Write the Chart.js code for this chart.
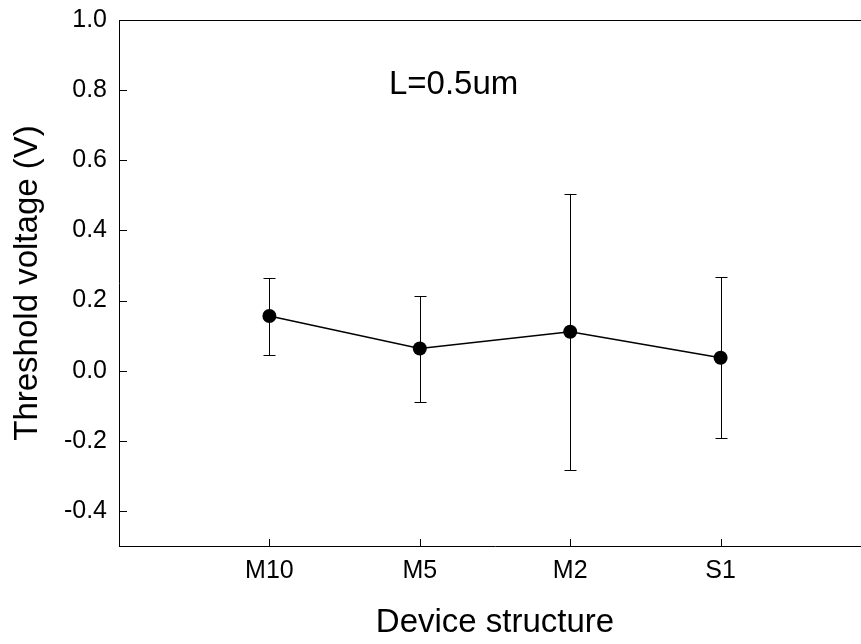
<!DOCTYPE html>
<html>
<head>
<meta charset="utf-8">
<script src="https://cdn.jsdelivr.net/npm/chart.js@4.4.0/dist/chart.umd.min.js"></script>
<style>
  html, body { margin: 0; padding: 0; background: #fff; overflow: hidden; }
  #wrap { width: 880px; height: 644px; }
</style>
</head>
<body>
<div id="wrap"><canvas id="vtChart" width="880" height="644"></canvas></div>
<script>
// Device structures along the x axis
const categories = ['M10', 'M5', 'M2', 'S1'];
// Mean threshold voltage (V)
const meanVt = [0.156, 0.063, 0.111, 0.037];
// Error bar ends (V)
const upperVt = [0.265, 0.212, 0.505, 0.267];
const lowerVt = [0.046, -0.088, -0.284, -0.193];
// Labelled ticks on the y axis
const yTickValues = [-0.4, -0.2, 0.0, 0.2, 0.4, 0.6, 0.8, 1.0];

const FONT = '"Liberation Sans", Arial, sans-serif';

// Top frame line, inner tick marks, error bars and the L=0.5um note
const frameAndBars = {
  id: 'frameAndBars',
  beforeDatasetsDraw(chart) {
    const { ctx, chartArea, scales: { x, y } } = chart;
    ctx.save();
    ctx.strokeStyle = '#000';
    ctx.lineWidth = 1;
    ctx.beginPath();
    ctx.moveTo(chartArea.left, chartArea.top + 0.5);
    ctx.lineTo(chartArea.right, chartArea.top + 0.5);
    x.ticks.forEach(t => {
      const px = Math.round(x.getPixelForValue(t.value)) + 0.5;
      ctx.moveTo(px, chartArea.bottom);
      ctx.lineTo(px, chartArea.bottom - 7);
    });
    y.ticks.forEach(t => {
      if (t.value >= 1.0) return;
      const py = Math.round(y.getPixelForValue(t.value)) + 0.5;
      ctx.moveTo(chartArea.left, py);
      ctx.lineTo(chartArea.left + 8, py);
    });
    ctx.stroke();

    ctx.beginPath();
    categories.forEach((c, i) => {
      const px = Math.round(x.getPixelForValue(i)) + 0.5;
      const top = Math.round(y.getPixelForValue(upperVt[i])) + 0.5;
      const bot = Math.round(y.getPixelForValue(lowerVt[i])) + 0.5;
      ctx.moveTo(px, top); ctx.lineTo(px, bot);
      ctx.moveTo(px - 6, top); ctx.lineTo(px + 6, top);
      ctx.moveTo(px - 6, bot); ctx.lineTo(px + 6, bot);
    });
    ctx.stroke();
    ctx.restore();
  },
  afterDraw(chart) {
    const { ctx, scales: { x, y } } = chart;
    ctx.save();
    ctx.fillStyle = '#000';
    ctx.font = '33px ' + FONT;
    ctx.textAlign = 'left';
    ctx.textBaseline = 'alphabetic';
    ctx.fillText('L=0.5um', x.getPixelForValue(0.795), y.getPixelForValue(0.789));
    ctx.restore();
  }
};

const ctx = document.getElementById('vtChart').getContext('2d');
const vtChart = new Chart(ctx, {
  type: 'line',
  data: {
    datasets: [{
      label: 'Threshold voltage',
      data: meanVt.map((v, i) => ({ x: i, y: v })),
      borderColor: '#000',
      borderWidth: 1.5,
      pointRadius: 7,
      pointHoverRadius: 7,
      pointBackgroundColor: '#000',
      pointBorderColor: '#000',
      pointBorderWidth: 0,
      tension: 0,
      fill: false
    }]
  },
  options: {
    responsive: false,
    animation: false,
    devicePixelRatio: 1,
    layout: { padding: { top: 20, right: 9, left: 0, bottom: 0 } },
    plugins: {
      legend: { display: false },
      tooltip: { enabled: false }
    },
    scales: {
      x: {
        type: 'linear',
        min: -1,
        max: 4,
        grid: { display: false, drawTicks: false },
        border: { display: true, color: '#000', width: 1 },
        afterBuildTicks: s => {
          s.ticks = categories.map((c, i) => ({ value: i }));
        },
        afterFit: s => {
          s.height = 98;
          s.paddingLeft = 0;
          s.paddingRight = 0;
        },
        ticks: {
          autoSkip: false,
          maxRotation: 0,
          padding: 10,
          color: '#000',
          font: { family: FONT, size: 25 },
          callback: v => categories[v] ?? ''
        },
        title: {
          display: true,
          text: 'Device structure',
          color: '#000',
          font: { family: FONT, size: 33 },
          padding: { top: 0, bottom: 1 }
        }
      },
      y: {
        min: -0.5,
        max: 1.0,
        grid: { display: false, drawTicks: false },
        border: { display: true, color: '#000', width: 1 },
        afterBuildTicks: s => {
          s.ticks = yTickValues.map(v => ({ value: v }));
        },
        afterFit: s => {
          s.width = 119;
          s.paddingTop = 0;
          s.paddingBottom = 0;
        },
        ticks: {
          padding: 12,
          color: '#000',
          font: { family: FONT, size: 25 },
          callback: v => Number(v).toFixed(1)
        },
        title: {
          display: true,
          text: 'Threshold voltage (V)',
          color: '#000',
          font: { family: FONT, size: 33 },
          padding: { top: 8, bottom: 0 }
        }
      }
    }
  },
  plugins: [frameAndBars]
});
</script>
</body>
</html>
